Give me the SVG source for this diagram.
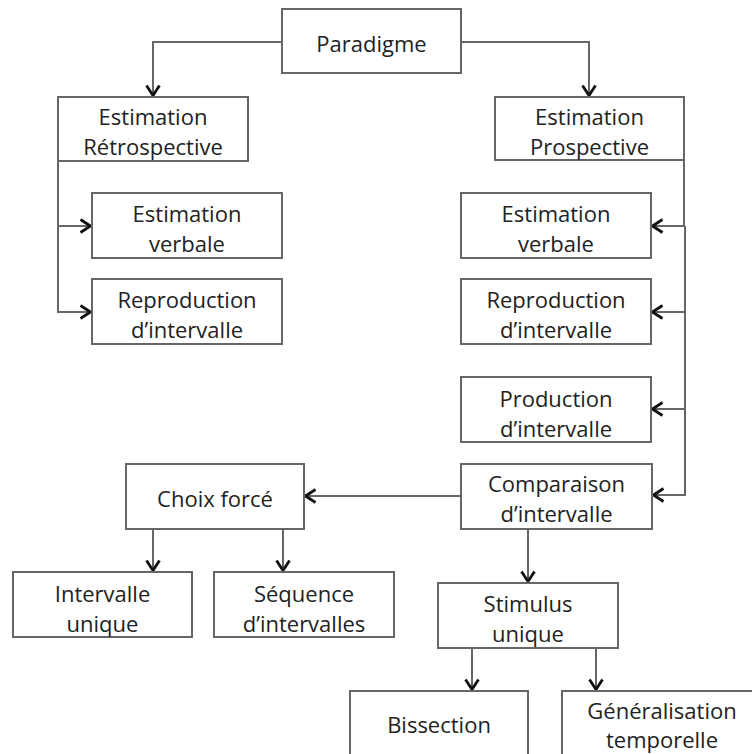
<svg xmlns="http://www.w3.org/2000/svg" width="752" height="754" viewBox="0 0 752 754">
<style>
.box{fill:#fff;stroke:#666;stroke-width:2}
.lbl{font-family:"Open Sans","Liberation Sans",sans-serif;font-size:22px;fill:#222;text-anchor:middle}
.con{fill:none;stroke:#666;stroke-width:2;marker-end:url(#arr)}
</style>
<defs>
<marker id="arr" viewBox="0 0 14 16" refX="12.5" refY="8" markerWidth="14" markerHeight="16" markerUnits="userSpaceOnUse" orient="auto">
<path d="M2,1.5 L12,8 L2,14.5" fill="none" stroke="#111" stroke-width="2.8"/>
</marker>
</defs>
<rect width="752" height="754" fill="#fff"/>
<g id="connectors">
<path class="con" d="M282,42 H153 V96"/>
<path class="con" d="M461,42 H589 V96"/>
<path class="con" d="M58,161 V226 H91"/>
<path class="con" d="M58,226 V312 H91"/>
<path class="con" d="M684,160 V226 H652"/>
<path class="con" d="M685,226 V312 H652"/>
<path class="con" d="M685,312 V409 H652"/>
<path class="con" d="M685,409 V495 H653"/>
<path class="con" d="M461,496 H305"/>
<path class="con" d="M153,529 V571"/>
<path class="con" d="M283,529 V571"/>
<path class="con" d="M528,529 V582"/>
<path class="con" d="M472,648 V690"/>
<path class="con" d="M596,648 V690"/>
</g>
<g id="paradigme"><rect class="box" x="282" y="9" width="179" height="64"/><text class="lbl" x="371.5" y="52">Paradigme</text></g>
<g id="estimation-retrospective"><rect class="box" x="58" y="97" width="190" height="64"/><text class="lbl" x="153" y="125">Estimation</text><text class="lbl" x="153" y="155">Rétrospective</text></g>
<g id="estimation-prospective"><rect class="box" x="495" y="97" width="189" height="63"/><text class="lbl" x="589.5" y="125">Estimation</text><text class="lbl" x="589.5" y="155">Prospective</text></g>
<g id="retro-estimation-verbale"><rect class="box" x="92" y="193" width="190" height="65"/><text class="lbl" x="187" y="222">Estimation</text><text class="lbl" x="187" y="252">verbale</text></g>
<g id="retro-reproduction"><rect class="box" x="92" y="279" width="190" height="65"/><text class="lbl" x="187" y="308">Reproduction</text><text class="lbl" x="187" y="338">d’intervalle</text></g>
<g id="pro-estimation-verbale"><rect class="box" x="461" y="193" width="190" height="65"/><text class="lbl" x="556" y="222">Estimation</text><text class="lbl" x="556" y="252">verbale</text></g>
<g id="pro-reproduction"><rect class="box" x="461" y="279" width="190" height="65"/><text class="lbl" x="556" y="308">Reproduction</text><text class="lbl" x="556" y="338">d’intervalle</text></g>
<g id="pro-production"><rect class="box" x="461" y="377" width="190" height="65"/><text class="lbl" x="556" y="407">Production</text><text class="lbl" x="556" y="437">d’intervalle</text></g>
<g id="pro-comparaison"><rect class="box" x="461" y="464" width="191" height="65"/><text class="lbl" x="556.5" y="492">Comparaison</text><text class="lbl" x="556.5" y="522">d’intervalle</text></g>
<g id="choix-force"><rect class="box" x="126" y="464" width="178" height="65"/><text class="lbl" x="215" y="507">Choix forcé</text></g>
<g id="intervalle-unique"><rect class="box" x="13" y="572" width="179" height="65"/><text class="lbl" x="102.5" y="602">Intervalle</text><text class="lbl" x="102.5" y="632">unique</text></g>
<g id="sequence-intervalles"><rect class="box" x="214" y="572" width="180" height="65"/><text class="lbl" x="304" y="602">Séquence</text><text class="lbl" x="304" y="632">d’intervalles</text></g>
<g id="stimulus-unique"><rect class="box" x="438" y="583" width="180" height="65"/><text class="lbl" x="528" y="612">Stimulus</text><text class="lbl" x="528" y="642">unique</text></g>
<g id="bissection"><rect class="box" x="350" y="691" width="178" height="80"/><text class="lbl" x="439" y="733">Bissection</text></g>
<g id="generalisation-temporelle"><rect class="box" x="562" y="691" width="200" height="80"/><text class="lbl" x="662" y="719">Généralisation</text><text class="lbl" x="662" y="748">temporelle</text></g>
</svg>
